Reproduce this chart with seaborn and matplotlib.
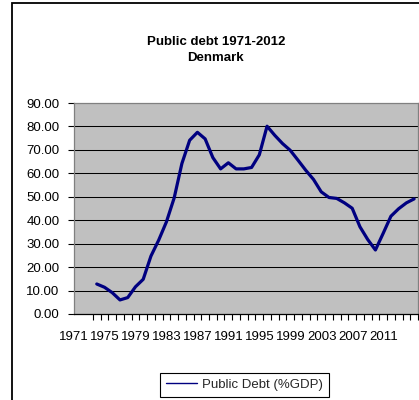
import matplotlib
matplotlib.use("Agg")
import matplotlib.pyplot as plt
from matplotlib.patches import Rectangle
from matplotlib.lines import Line2D
from matplotlib.ticker import FixedLocator, FormatStrFormatter
import numpy as np
import pandas as pd
import seaborn as sns

# Danish public debt, % of GDP
years = list(range(1971, 2013))
debt = [12.8, 11.4, 9.1, 6.0, 7.0, 11.6, 14.8, 24.7, 31.5, 39.3,
        49.5, 64.2, 74.1, 77.5, 74.7, 66.7, 61.9, 64.5, 61.9, 61.9,
        62.5, 67.9, 80.1, 76.2, 72.7, 69.8, 65.6, 61.3, 57.4, 52.1,
        49.7, 49.3, 47.4, 45.1, 37.2, 31.8, 27.3, 34.4, 41.7, 44.9,
        47.4, 49.1]
year_labels = ["1971", "1975", "1979", "1983", "1987", "1991",
               "1995", "1999", "2003", "2007", "2011"]
y_ticks = [0, 10, 20, 30, 40, 50, 60, 70, 80, 90]

df = pd.DataFrame({"Year": years, "Public Debt (%GDP)": debt})

sns.set_theme(style="white")
plt.rcParams["font.family"] = ["Liberation Sans", "DejaVu Sans"]
FS = 9.5

W, H = 419, 400
fig = plt.figure(figsize=(W / 100, H / 100), dpi=100)
fig.patch.set_facecolor("white")

ax = fig.add_axes([74 / W, 1 - 314 / H, (418 - 74) / W, (314 - 103) / H])
ax.set_facecolor("#C0C0C0")

sns.lineplot(data=df, x="Year", y="Public Debt (%GDP)", ax=ax,
             color="#000080", linewidth=2.3, legend=False, zorder=3)

ax.set_xlim(years[0] - 0.5, years[-1] + 0.5)
ax.set_ylim(0, 90)

# horizontal gridlines
ax.set_yticks(y_ticks)
ax.yaxis.set_major_formatter(FormatStrFormatter("%.2f"))
for v in y_ticks[1:-1]:
    ax.axhline(v, color="black", linewidth=0.75, zorder=1)

# category boundaries carry the tick marks; year labels sit between them
ax.xaxis.set_minor_locator(FixedLocator(np.arange(years[0] - 0.5, years[-1] + 1.0, 1.0)))
label_pos = [int(t) - 2.94 for t in year_labels]
ax.set_xticks(label_pos)
ax.set_xticklabels(year_labels)
ax.tick_params(axis="x", which="major", length=0, pad=12.5, labelsize=FS, colors="black")
ax.tick_params(axis="x", which="minor", length=4, width=0.8, color="black", direction="out", bottom=True)
ax.tick_params(axis="y", which="major", length=4, width=0.8, color="black", direction="out",
               left=True, pad=6.5, labelsize=FS, labelcolor="black")

ax.set_xlabel("")
ax.set_ylabel("")

for side in ["top", "right", "left"]:
    ax.spines[side].set_visible(True)
    ax.spines[side].set_color("#808080")
    ax.spines[side].set_linewidth(0.9)
ax.spines["bottom"].set_color("black")
ax.spines["bottom"].set_linewidth(0.9)

# title
fig.text(215.8 / W, 1 - 41.7 / H, "Public debt 1971-2012", ha="center", va="center",
         fontsize=FS, fontweight="bold", color="black")
fig.text(215.8 / W, 1 - 58.3 / H, "Denmark", ha="center", va="center",
         fontsize=FS, fontweight="bold", color="black")

# legend
handle = Line2D([], [], color="#000080", linewidth=1.0)
leg = fig.legend([handle], ["Public Debt (%GDP)"], loc="center",
                 bbox_to_anchor=(244.5 / W, 1 - 384.7 / H), fontsize=FS,
                 frameon=True, fancybox=False, edgecolor="black", framealpha=1,
                 handlelength=2.36, handletextpad=0.35, borderpad=0.45)
leg.get_frame().set_linewidth(0.8)

# chart area frame
fig.add_artist(Rectangle((12 / W, -0.2), 1.0, 1 - 3 / H + 0.2, transform=fig.transFigure,
                         fill=False, edgecolor="black", linewidth=1.3))

fig.savefig("out.png", dpi=100)
